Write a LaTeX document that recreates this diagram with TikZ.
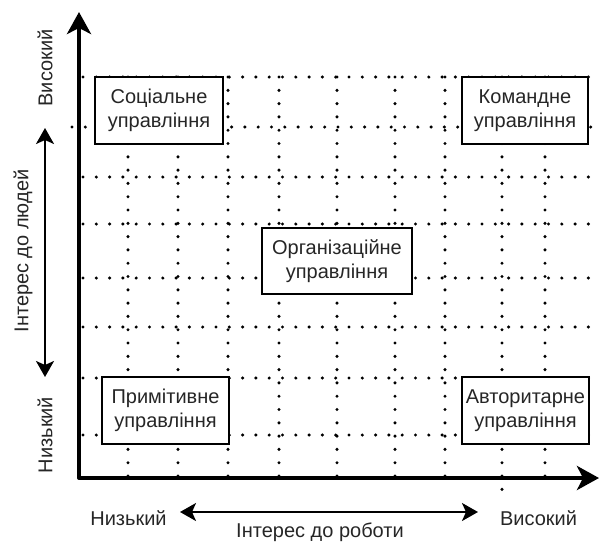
\documentclass[tikz,border=0pt]{standalone}
\usepackage{fontspec}
\setmainfont{Liberation Sans}
\usetikzlibrary{arrows.meta}

\begin{document}
\begin{tikzpicture}[
		x=1pt, y=-1pt,
		every node/.style={font=\fontsize{20}{24}\selectfont, text=black!85},
		grid line/.style={line width=3.4pt, line cap=round, dash pattern=on 0pt off 13.3pt},
		quadrant/.style={draw, line width=1.3pt, fill=white, align=center, inner sep=0pt, minimum height=67pt},
		axis/.style={line width=4pt, line join=round, {Stealth[length=22pt,width=24pt,inset=6pt]}-{Stealth[length=22pt,width=24pt,inset=6pt]}},
		scale arrow/.style={line width=2pt, {Stealth[length=16pt,width=18pt,inset=4pt]}-{Stealth[length=16pt,width=18pt,inset=4pt]}}
		]
		\useasboundingbox (0,0) rectangle (600,542);
		\foreach \x in {128,178,228,279,337,395,445,545}
			\draw[grid line] (\x,77) -- (\x,478);
		\draw[grid line] (502,77) -- (502,495);
		\foreach \y in {77,177,224,278,327,378,435}
			\draw[grid line] (83,\y) -- (600,\y);
		\draw[grid line] (72,127) -- (600,127);
		\coordinate (top) at (79,12);
		\coordinate (origin) at (79,478);
		\coordinate (right) at (599,478);
		\draw[axis] (top) -- (origin) -- (right);
		\node[quadrant, minimum width=128pt] (social) at (159,110.5) {Соціальне\\управління};
		\node[quadrant, minimum width=126pt] (team) at (525,110.5) {Командне\\управління};
		\node[quadrant, minimum width=150pt, minimum height=66pt] (org) at (337,261) {Організаційне\\управління};
		\node[quadrant, minimum width=127pt] (primitive) at (165.5,410.5) {Примітивне\\управління};
		\node[quadrant, minimum width=127pt] (authority) at (525.5,410.5) {Авторитарне\\управління};
		\node[rotate=90] (peoplehigh) at (45,68) {Високий};
		\node[rotate=90] (peoplelow) at (45,435) {Низький};
		\node[rotate=90] (people) at (23,251) {Інтерес до людей};
		\node[anchor=base] (worklow) at (128.5,525) {Низький};
		\node[anchor=base] (workhigh) at (538.5,525) {Високий};
		\node[anchor=base] (work) at (320,537.5) {Інтерес до роботи};
		\coordinate (up) at (45,128);
		\coordinate (down) at (45,377);
		\coordinate (left) at (180,512);
		\coordinate (forward) at (478,512);
		\draw[scale arrow] (up) -- (down);
		\draw[scale arrow] (left) -- (forward);
	\end{tikzpicture}
\end{document}
